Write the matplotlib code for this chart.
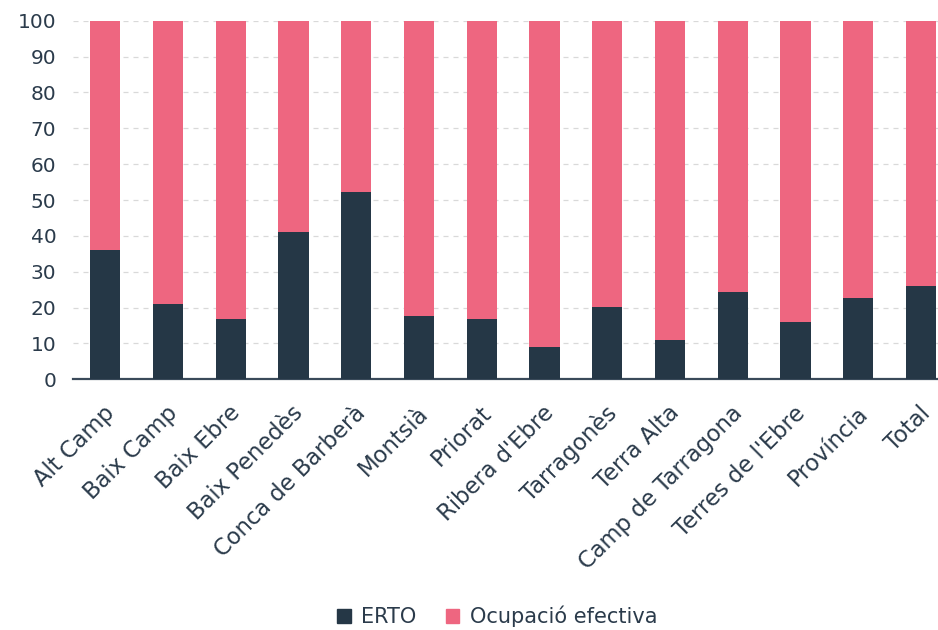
import matplotlib
matplotlib.use("Agg")
import matplotlib.pyplot as plt
from matplotlib.patches import Patch
from matplotlib.transforms import ScaledTranslation

categories = ["Alt Camp", "Baix Camp", "Baix Ebre", "Baix Penedès", "Conca de Barberà",
              "Montsià", "Priorat", "Ribera d'Ebre", "Tarragonès", "Terra Alta",
              "Camp de Tarragona", "Terres de l'Ebre", "Província", "Total"]
erto = [36.1, 21.0, 16.8, 41.2, 52.1, 17.7, 16.8, 9.1, 20.1, 10.9, 24.3, 15.9, 22.6, 26.1]
ocupacio = [100 - v for v in erto]
yticks = list(range(0, 101, 10))

navy = "#253746"
pink = "#EE6680"
text_c = "#2B3B4B"

plt.rcParams['font.family'] = ['DejaVu Sans']

fig = plt.figure(figsize=(9.38, 6.30), dpi=100)
ax = fig.add_axes([0.078, 0.398, 0.922, 0.569])

x = list(range(len(categories)))
ax.bar(x, erto, width=0.48, color=navy, zorder=3)
ax.bar(x, ocupacio, bottom=erto, width=0.48, color=pink, zorder=3)

ax.set_xlim(-0.51, 13.27)
ax.set_ylim(0, 100)
ax.set_yticks(yticks)
ax.yaxis.grid(True, linestyle=(0, (4, 4)), color="#d9d9d9", linewidth=0.9, zorder=0)
ax.set_axisbelow(True)
for s in ["top", "right", "left"]:
    ax.spines[s].set_visible(False)
ax.spines["bottom"].set_color("#3a4a5a")
ax.spines["bottom"].set_linewidth(1.6)
ax.tick_params(axis="y", length=0, pad=12, labelsize=14.5, labelcolor=text_c)
ax.tick_params(axis="x", length=0, pad=16, labelsize=16.3, labelcolor=text_c)
ax.set_xticks(x)
labels = ax.set_xticklabels(categories, rotation=45, ha="right", rotation_mode="anchor")
off = ScaledTranslation(-2 / 100, 0, fig.dpi_scale_trans)
for lb in labels:
    lb.set_transform(lb.get_transform() + off)

handles = [Patch(color=navy, label="ERTO"), Patch(color=pink, label="Ocupació efectiva")]
leg = fig.legend(handles=handles, loc="center", bbox_to_anchor=(0.53, 0.022), ncol=2,
                 frameon=False, fontsize=15, handlelength=0.65, handleheight=0.65,
                 handletextpad=0.5, columnspacing=1.4)
for t in leg.get_texts():
    t.set_color(text_c)

fig.savefig("out.png", dpi=100)
